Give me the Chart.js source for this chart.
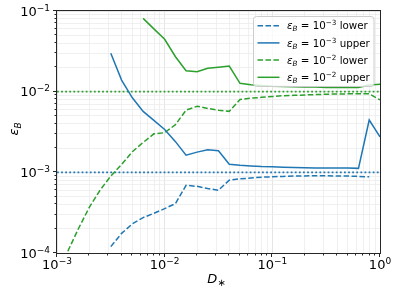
<!DOCTYPE html>
<html>
<head>
<meta charset="utf-8">
<script src="https://cdn.jsdelivr.net/npm/chart.js@4.4.1/dist/chart.umd.min.js"></script>
<style>
  html, body { margin: 0; padding: 0; background: #fff; }
</style>
</head>
<body>
<canvas id="c" width="397" height="293"></canvas>
<script>
// D_* sample points (0.1 decade steps, 10^-2.9 .. 10^0)
const dStar = [0.00126, 0.00158, 0.002, 0.00251, 0.00316, 0.00398, 0.00501, 0.00631, 0.00794, 0.01,
  0.0126, 0.0158, 0.02, 0.0251, 0.0316, 0.0398, 0.0501, 0.0631, 0.0794, 0.1,
  0.126, 0.158, 0.2, 0.251, 0.316, 0.398, 0.501, 0.631, 0.794, 1.0];

// eps_B = 1e-3
const blueLower = [null, null, null, null, 1.2e-4, 1.75e-4, 2.3e-4, 2.75e-4, 3.1e-4, 3.55e-4,
  4.1e-4, 6.9e-4, 6.7e-4, 6.3e-4, 6.0e-4, 8.0e-4, 8.3e-4, 8.5e-4, 8.7e-4, 8.8e-4,
  8.9e-4, 9.0e-4, 9.0e-4, 9.1e-4, 9.1e-4, 9.0e-4, 9.0e-4, 8.9e-4, 8.8e-4, null];
const blueUpper = [null, null, null, null, 0.030, 0.0139, 0.0084, 0.0057, 0.0044, 0.0034,
  0.0024, 0.00163, 0.00178, 0.0019, 0.00185, 0.00126, 0.00122, 0.0012, 0.00118, 0.00117,
  0.00116, 0.00115, 0.00114, 0.00113, 0.00113, 0.00113, 0.00113, 0.00112, 0.00445, 0.00275];

// eps_B = 1e-2
const greenLower = [1.05e-4, 2.0e-4, 3.7e-4, 6.0e-4, 9.0e-4, 1.25e-3, 1.8e-3, 2.35e-3, 3.0e-3, 3.1e-3,
  3.9e-3, 5.9e-3, 6.6e-3, 6.2e-3, 5.9e-3, 5.7e-3, 8.0e-3, 8.3e-3, 8.5e-3, 8.7e-3,
  8.9e-3, 9.0e-3, 9.1e-3, 9.2e-3, 9.3e-3, 9.35e-3, 9.4e-3, 9.4e-3, 9.4e-3, 7.9e-3];
const greenUpper = [null, null, null, null, null, null, null, 0.081, 0.060, 0.0446,
  0.0271, 0.0182, 0.0177, 0.0195, 0.0201, 0.0208, 0.0127, 0.0122, 0.0119, 0.0117,
  0.0116, 0.0115, 0.0114, 0.0114, 0.0113, 0.0113, 0.0113, 0.0113, 0.0121, 0.0124];

const epsB = [1e-3, 1e-2];
const xDecades = [1e-3, 1e-2, 1e-1, 1];
const yDecades = [1e-4, 1e-3, 1e-2, 1e-1];
const xTickLabels = ['−3', '−2', '−1', '0'];
const yTickLabels = ['−4', '−3', '−2', '−1'];
const legendLabels = [['−3', 'lower'], ['−3', 'upper'], ['−2', 'lower'], ['−2', 'upper']];

const BLUE = '#1f77b4';
const GREEN = '#2ca02c';
const FONT = '"DejaVu Sans", sans-serif';
const DASH = [5.55, 2.4];
const DOT = [1.8, 2.3];

function withMinors(decades) {
  const out = [];
  decades.forEach((d, i) => {
    out.push(d);
    if (i < decades.length - 1) for (let m = 2; m <= 9; m++) out.push(d * m);
  });
  return out;
}
const xTicks = withMinors(xDecades);
const yTicks = withMinors(yDecades);
const isDecade = v => Math.abs(Math.log10(v) - Math.round(Math.log10(v))) < 1e-6;

function pts(arr) {
  return dStar.map((x, i) => ({ x: x, y: arr[i] }));
}

function line(data, color, dash, width) {
  return { data: data, borderColor: color, borderWidth: width || 1.5, borderDash: dash, pointRadius: 0, fill: false };
}

const datasets = [
  line(pts(blueLower), BLUE, DASH),
  line(pts(blueUpper), BLUE, []),
  line(pts(greenLower), GREEN, DASH),
  line(pts(greenUpper), GREEN, []),
  line([{ x: 1e-3, y: epsB[0] }, { x: 1, y: epsB[0] }], BLUE, DOT, 1.8),
  line([{ x: 1e-3, y: epsB[1] }, { x: 1, y: epsB[1] }], GREEN, DOT, 1.8)
];

// draw a run of text pieces (for sub/superscripts)
function drawRich(ctx, parts, x, y, align) {
  let w = 0;
  parts.forEach(p => {
    ctx.font = (p.i ? 'italic ' : '') + p.s + 'px ' + FONT;
    p.w = ctx.measureText(p.t).width;
    w += p.w;
  });
  let cx = align === 'right' ? x - w : align === 'center' ? x - w / 2 : x;
  ctx.textAlign = 'left';
  ctx.textBaseline = 'alphabetic';
  ctx.fillStyle = '#000';
  parts.forEach(p => {
    ctx.font = (p.i ? 'italic ' : '') + p.s + 'px ' + FONT;
    ctx.fillText(p.t, cx, y - (p.dy || 0));
    cx += p.w;
  });
  return w;
}

const axesPlugin = {
  id: 'axesDeco',
  afterDraw(chart) {
    const ctx = chart.ctx;
    const a = chart.chartArea;
    const xs = chart.scales.x, ys = chart.scales.y;
    ctx.save();
    // frame
    ctx.strokeStyle = '#262626';
    ctx.lineWidth = 1;
    ctx.setLineDash([]);
    ctx.strokeRect(a.left - 0.5, a.top - 0.5, a.right - a.left + 1, a.bottom - a.top + 1);
    // tick marks
    ctx.beginPath();
    xTicks.forEach(v => {
      const px = Math.round(xs.getPixelForValue(v)) - 0.5;
      const len = isDecade(v) ? 3.5 : 2;
      ctx.moveTo(px, a.bottom + 0.5);
      ctx.lineTo(px, a.bottom + 0.5 + len);
    });
    yTicks.forEach(v => {
      const py = Math.round(ys.getPixelForValue(v)) - 0.5;
      const len = isDecade(v) ? 3.5 : 2;
      ctx.moveTo(a.left - 0.5, py);
      ctx.lineTo(a.left - 0.5 - len, py);
    });
    ctx.stroke();
    // tick labels
    xDecades.forEach((v, i) => {
      drawRich(ctx, [{ t: '10', s: 13 }, { t: xTickLabels[i], s: 9, dy: 5 }],
        xs.getPixelForValue(v), a.bottom + 15.5, 'center');
    });
    yDecades.forEach((v, i) => {
      drawRich(ctx, [{ t: '10', s: 13 }, { t: yTickLabels[i], s: 9, dy: 5 }],
        a.left - 7, ys.getPixelForValue(v) + 4.7, 'right');
    });
    // axis titles
    drawRich(ctx, [{ t: 'D', s: 13, i: true }, { t: '∗', s: 10, dy: -3 }],
      (a.left + a.right) / 2 - 2, 283, 'center');
    ctx.translate(18, (a.top + a.bottom) / 2 - 3);
    ctx.rotate(-Math.PI / 2);
    drawRich(ctx, [{ t: 'ε', s: 13, i: true }, { t: 'B', s: 9, i: true, dy: -2.5 }], 0, 0, 'center');
    ctx.restore();
  }
};

const legendPlugin = {
  id: 'boxLegend',
  afterDraw(chart) {
    const ctx = chart.ctx;
    const bx = 253.5, by = 16.5, bw = 120.5, bh = 70, r = 3;
    ctx.save();
    ctx.beginPath();
    ctx.roundRect(bx, by, bw, bh, r);
    ctx.fillStyle = 'rgba(255,255,255,0.8)';
    ctx.fill();
    ctx.strokeStyle = '#cccccc';
    ctx.lineWidth = 1;
    ctx.stroke();
    const styles = [[BLUE, DASH], [BLUE, []], [GREEN, DASH], [GREEN, []]];
    legendLabels.forEach((lab, i) => {
      const y = 25.7 + i * 17.2;
      ctx.beginPath();
      ctx.strokeStyle = styles[i][0];
      ctx.lineWidth = 1.5;
      ctx.setLineDash(styles[i][1]);
      ctx.moveTo(257.5, y);
      ctx.lineTo(279.5, y);
      ctx.stroke();
      ctx.setLineDash([]);
      drawRich(ctx, [
        { t: 'ε', s: 10.3, i: true },
        { t: 'B', s: 7.2, i: true, dy: -2 },
        { t: ' = 10', s: 10.3 },
        { t: lab[0], s: 7.2, dy: 4 },
        { t: ' ' + lab[1], s: 10.3 }
      ], 287, y + 3.7, 'left');
    });
    ctx.restore();
  }
};

const gridColor = c => (c.tick && isDecade(c.tick.value)) ? '#dedede' : '#ececec';

new Chart(document.getElementById('c'), {
  type: 'line',
  data: { datasets: datasets },
  options: {
    responsive: false,
    animation: false,
    devicePixelRatio: 1,
    layout: { padding: { top: 11, right: 17, left: 0, bottom: 0 } },
    plugins: { legend: { display: false }, tooltip: { enabled: false } },
    scales: {
      x: {
        type: 'logarithmic', min: 1e-3, max: 1,
        afterBuildTicks: s => { s.ticks = xTicks.map(v => ({ value: v, major: isDecade(v) })); },
        afterFit: s => { s.height = 40; },
        ticks: { display: false },
        grid: { color: gridColor, lineWidth: 0.8, drawTicks: false },
        border: { display: false }
      },
      y: {
        type: 'logarithmic', min: 1e-4, max: 1e-1,
        afterBuildTicks: s => { s.ticks = yTicks.map(v => ({ value: v, major: isDecade(v) })); },
        afterFit: s => { s.width = 57; },
        ticks: { display: false },
        grid: { color: gridColor, lineWidth: 0.8, drawTicks: false },
        border: { display: false }
      }
    }
  },
  plugins: [axesPlugin, legendPlugin]
});
</script>
</body>
</html>
